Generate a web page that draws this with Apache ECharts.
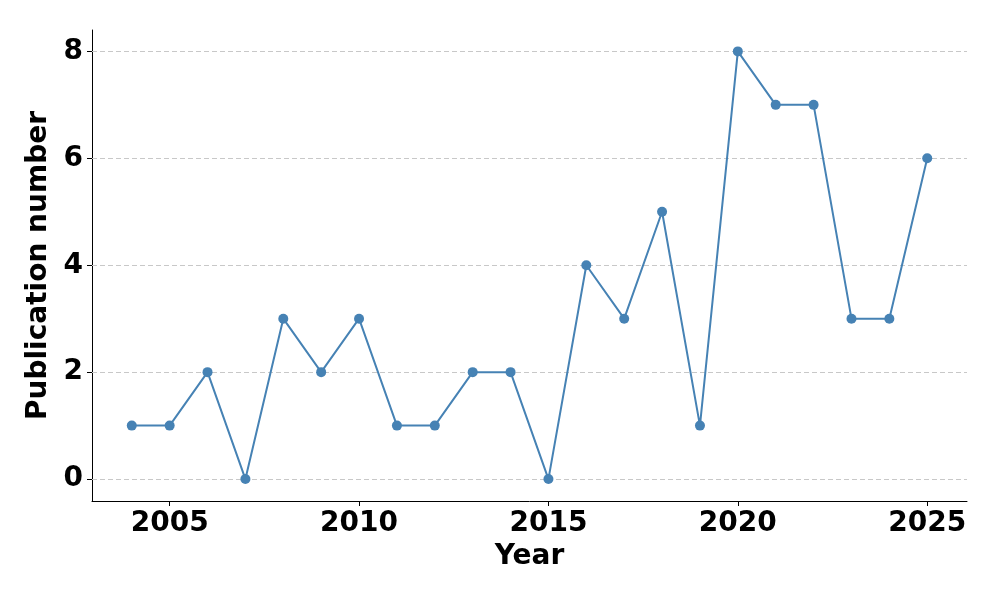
<!DOCTYPE html>
<html>
<head>
<meta charset="utf-8">
<script src="https://cdn.jsdelivr.net/npm/echarts@6/dist/echarts.min.js"></script>
<style>
  html, body { margin: 0; padding: 0; background: #fff; }
  #chart { width: 1000px; height: 600px; }
</style>
</head>
<body>
<div id="chart"></div>
<script>
// publications per year
let years = [2004, 2005, 2006, 2007, 2008, 2009, 2010, 2011, 2012, 2013, 2014,
             2015, 2016, 2017, 2018, 2019, 2020, 2021, 2022, 2023, 2024, 2025];
let counts = [1, 1, 2, 0, 3, 2, 3, 1, 1, 2, 2,
              0, 4, 3, 5, 1, 8, 7, 7, 3, 3, 6];
let xTicks = [2005, 2010, 2015, 2020, 2025];
let yTicks = [0, 2, 4, 6, 8];

let points = [];
for (let i = 0; i < years.length; i++) {
    points.push([years[i], counts[i]]);
}

let font = "DejaVu Sans";
let myChart = echarts.init(document.getElementById("chart"));
let option = {
    animation: false,
    grid: {
        left: 92,
        right: 33,
        top: 30,
        bottom: 99,
    },
    xAxis: {
        type: "value",
        min: 2002.95,
        max: 2026.05,
        name: "Year",
        nameLocation: "middle",
        nameGap: 42,
        nameTextStyle: {fontFamily: font, fontWeight: "bold", fontSize: 28, color: "#000"},
        axisLine: {show: true, onZero: false, lineStyle: {color: "#000", width: 1}},
        axisTick: {show: true, length: 5, customValues: xTicks, lineStyle: {color: "#000"}},
        axisLabel: {
            customValues: xTicks,
            margin: 9,
            formatter: function (v) { return String(v); },
            fontFamily: font, fontWeight: "bold", fontSize: 28, color: "#000",
        },
        splitLine: {show: false},
    },
    yAxis: {
        type: "value",
        min: -0.41,
        max: 8.4,
        name: "Publication number",
        nameLocation: "middle",
        nameGap: 33,
        nameTextStyle: {fontFamily: font, fontWeight: "bold", fontSize: 28, color: "#000"},
        axisLine: {show: true, onZero: false, lineStyle: {color: "#000", width: 1}},
        axisTick: {show: true, length: 5, customValues: yTicks, lineStyle: {color: "#000"}},
        axisLabel: {
            customValues: yTicks,
            margin: 9,
            formatter: function (v) { return String(v); },
            fontFamily: font, fontWeight: "bold", fontSize: 28, color: "#000",
        },
        splitLine: {show: false},
    },
    series: [{
        type: "line",
        data: points,
        color: "#4682b4",
        symbol: "circle",
        symbolSize: 10,
        lineStyle: {width: 2, color: "#4682b4"},
        itemStyle: {color: "#4682b4"},
        z: 3,
        markLine: {
            silent: true,
            symbol: "none",
            label: {show: false},
            lineStyle: {color: "#c8c8c8", type: [5, 3], width: 1},
            data: yTicks.map(function (v) { return {yAxis: v}; }),
            z: 1,
        },
    }],
};
myChart.setOption(option);
</script>
</body>
</html>
